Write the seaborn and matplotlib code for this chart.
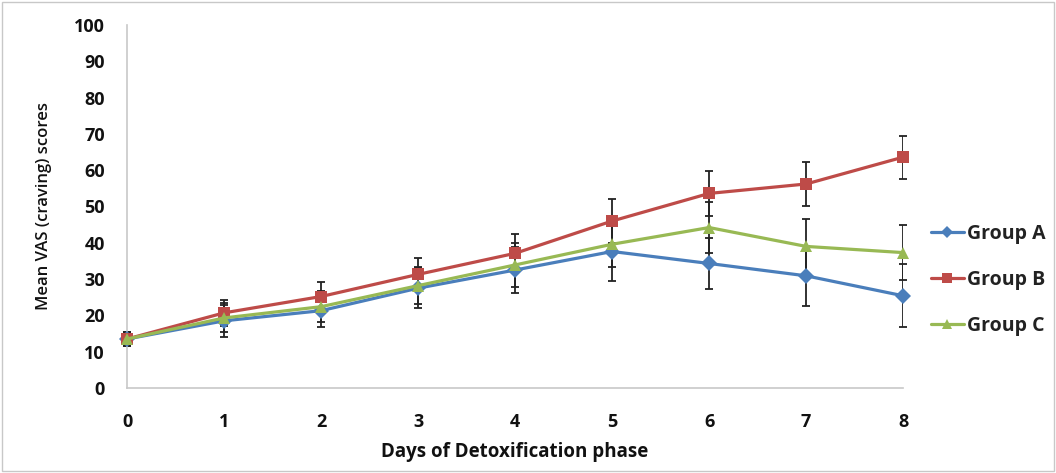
import numpy as np
import pandas as pd
import seaborn as sns
import matplotlib.pyplot as plt
from matplotlib.patches import Rectangle

days = [0, 1, 2, 3, 4, 5, 6, 7, 8]
group_a = [13.5, 18.5, 21.3, 27.5, 32.5, 37.6, 34.3, 30.9, 25.4]
group_b = [13.5, 20.7, 25.2, 31.3, 37.1, 46.0, 53.6, 56.2, 63.6]
group_c = [13.5, 19.3, 22.4, 28.2, 33.9, 39.6, 44.2, 39.0, 37.3]
err_a = [2.0, 4.4, 4.6, 5.5, 6.4, 8.0, 7.0, 8.2, 8.7]
err_b = [2.0, 3.5, 4.1, 4.6, 5.4, 6.0, 6.2, 6.1, 5.9]
err_c = [2.0, 4.0, 4.3, 5.0, 6.0, 6.2, 6.9, 7.6, 7.6]
groups = ['Group A', 'Group B', 'Group C']

colors = {'Group A': '#4a7ebb', 'Group B': '#be4b48', 'Group C': '#98b954'}
markers = {'Group A': 'D', 'Group B': 's', 'Group C': '^'}

df = pd.DataFrame({
    'day': days * 3,
    'score': group_a + group_b + group_c,
    'err': err_a + err_b + err_c,
    'group': np.repeat(groups, len(days)),
})

sns.set_style('white')
plt.rcParams['font.family'] = ['Open Sans', 'DejaVu Sans']

fig = plt.figure(figsize=(10.56, 4.73), dpi=100)
ax = fig.add_axes([0.1203, 0.1797, 0.735, 0.7675])

# error bars first so the lines sit on top
for g in groups:
    sub = df[df['group'] == g]
    ax.errorbar(sub['day'], sub['score'], yerr=sub['err'], fmt='none',
                ecolor='#222222', elinewidth=1.3, capsize=3, capthick=1.3, zorder=1)

sns.lineplot(data=df, x='day', y='score', hue='group', style='group',
             palette=colors, markers=markers, dashes=False, linewidth=2.3,
             markersize=8.5, markeredgewidth=0, ax=ax, zorder=3)

ax.set_xlim(0, 8)
ax.set_ylim(0, 100)
ax.set_xticks(days)
ax.set_yticks(range(0, 101, 10))
ax.tick_params(axis='x', length=0, labelsize=13, pad=18, labelcolor='#111111')
ax.tick_params(axis='y', length=0, labelsize=13, pad=16, labelcolor='#111111')
for lab in ax.get_xticklabels() + ax.get_yticklabels():
    lab.set_fontweight('bold')
ax.set_xlabel('Days of Detoxification phase', fontsize=13.5, fontweight='bold',
              labelpad=8, color='#111111')
ax.set_ylabel('Mean VAS (craving) scores', fontsize=12, fontweight='semibold',
              labelpad=16, color='#111111')

for side in ['top', 'right']:
    ax.spines[side].set_visible(False)
for side in ['left', 'bottom']:
    ax.spines[side].set_color('#c8c8c8')
    ax.spines[side].set_linewidth(1.2)
for line in ax.lines:
    line.set_clip_on(False)

leg = ax.legend(loc='center left', bbox_to_anchor=(1.013, 0.298), frameon=False,
                fontsize=14, handlelength=1.7, labelspacing=1.35, handletextpad=0.15)
for t in leg.get_texts():
    t.set_fontweight('bold')
    t.set_color('#222222')
for h in leg.legend_handles:
    h.set_markersize(6.5)

fig.patches.append(Rectangle((0.002, 0.004), 0.996, 0.992, transform=fig.transFigure,
                             fill=False, edgecolor='#c8c8c8', linewidth=1))

fig.savefig('out.png', dpi=100)
